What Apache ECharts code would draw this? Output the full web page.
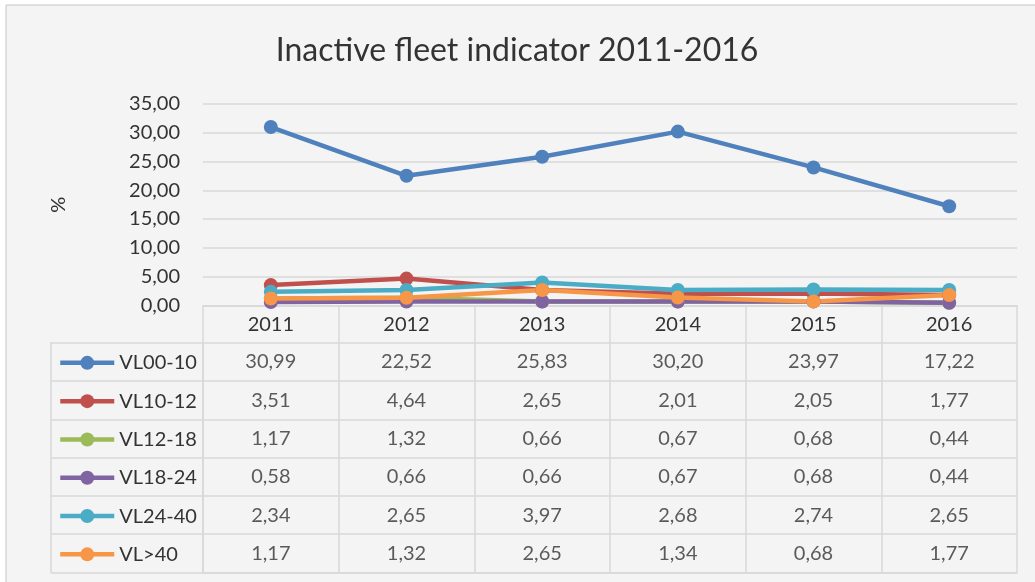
<!DOCTYPE html>
<html>
<head>
<meta charset="utf-8">
<script src="https://cdn.jsdelivr.net/npm/echarts@6/dist/echarts.min.js"></script>
<style>
  html, body { margin: 0; padding: 0; background: #ffffff; }
  #chart { width: 1035px; height: 582px; }
</style>
</head>
<body>
<div id="chart"></div>
<script>
const years = ['2011', '2012', '2013', '2014', '2015', '2016'];
const names = ['VL00-10', 'VL10-12', 'VL12-18', 'VL18-24', 'VL24-40', 'VL>40'];
const vl0010 = [30.99, 22.52, 25.83, 30.20, 23.97, 17.22];
const vl1012 = [3.51, 4.64, 2.65, 2.01, 2.05, 1.77];
const vl1218 = [1.17, 1.32, 0.66, 0.67, 0.68, 0.44];
const vl1824 = [0.58, 0.66, 0.66, 0.67, 0.68, 0.44];
const vl2440 = [2.34, 2.65, 3.97, 2.68, 2.74, 2.65];
const vlOver40 = [1.17, 1.32, 2.65, 1.34, 0.68, 1.77];
const yTicks = [0, 5, 10, 15, 20, 25, 30, 35];

const allValues = [vl0010, vl1012, vl1218, vl1824, vl2440, vlOver40];
const colors = ['#4F81BD', '#C0504D', '#9BBB59', '#8064A2', '#4BACC6', '#F79646'];
const textColor = '#333333';
const lineColor = '#d9d9d9';
const font = 'Lato';

function fmt(v) {
    return Number(v).toFixed(2).replace('.', ',');
}

// table cells: [yearIndex, rowIndex, value]
const cells = [];
allValues.forEach(function (arr, r) {
    arr.forEach(function (v, c) {
        cells.push([c, r, v]);
    });
});

const plotTop = 104, plotBottom = 305.3;
const rowH = 38.3;
const tableTop = 342.7;

const chart = echarts.init(document.getElementById('chart'));

const lineSeries = names.map(function (n, i) {
    return {
        name: n,
        type: 'line',
        xAxisIndex: 0,
        yAxisIndex: 0,
        data: allValues[i],
        symbol: 'circle',
        symbolSize: 14,
        lineStyle: { width: 4.5, color: colors[i] },
        itemStyle: { color: colors[i] },
        emphasis: { disabled: true }
    };
});

chart.setOption({
    backgroundColor: '#ffffff',
    animation: false,
    color: colors,
    title: {
        text: 'Inactive fleet indicator 2011-2016',
        left: 512,
        textAlign: 'center',
        top: 30,
        textStyle: { fontFamily: font, fontSize: 32, fontWeight: 'normal', color: textColor }
    },
    graphic: [{
        type: 'rect',
        z: -10,
        shape: { x: 6, y: 5, width: 1040, height: 590 },
        style: { fill: '#f4f4f4', stroke: '#c4c4c4', lineWidth: 1 }
    }],
    legend: {
        data: names,
        orient: 'vertical',
        left: 58,
        top: tableTop + (rowH - 20) / 2 + 1,
        padding: 0,
        itemWidth: 54,
        itemHeight: 17.5,
        itemGap: rowH - 20,
        selectedMode: false,
        lineStyle: { width: 4.5 },
        textStyle: { fontFamily: font, fontSize: 20, lineHeight: 20, color: textColor }
    },
    grid: [
        { left: 203, width: 814, top: plotTop, height: plotBottom - plotTop, outerBoundsMode: 'none' },
        { left: 203, width: 814, top: tableTop, height: rowH * 6, outerBoundsMode: 'none' },
        { left: 51, width: 152, top: tableTop, height: rowH * 6, outerBoundsMode: 'none' }
    ],
    xAxis: [
        {
            gridIndex: 0,
            type: 'category',
            data: years,
            boundaryGap: true,
            axisLine: { lineStyle: { color: lineColor, width: 1.5 } },
            axisTick: { show: true, length: tableTop - plotBottom, lineStyle: { color: lineColor, width: 1.5 } },
            axisLabel: { margin: 9, fontFamily: font, fontSize: 20, color: textColor }
        },
        {
            gridIndex: 1,
            type: 'category',
            data: years,
            boundaryGap: true,
            axisLine: { lineStyle: { color: lineColor, width: 1.5 } },
            axisTick: { show: false },
            axisLabel: { show: false },
            splitLine: { show: true, lineStyle: { color: lineColor, width: 1.5 } }
        },
        {
            gridIndex: 2,
            type: 'value',
            min: 0,
            max: 1,
            show: false
        }
    ],
    yAxis: [
        {
            gridIndex: 0,
            type: 'value',
            min: 0,
            max: yTicks[yTicks.length - 1],
            interval: yTicks[1] - yTicks[0],
            name: '%',
            nameLocation: 'middle',
            nameGap: 134,
            nameTextStyle: { fontFamily: font, fontSize: 20, color: textColor },
            axisLine: { show: false },
            axisTick: { show: false },
            axisLabel: { margin: 23, fontFamily: font, fontSize: 20, color: textColor, formatter: fmt },
            splitLine: { lineStyle: { color: lineColor, width: 1.5 } }
        },
        {
            gridIndex: 1,
            type: 'category',
            data: names,
            inverse: true,
            boundaryGap: true,
            axisLine: { show: true, lineStyle: { color: lineColor, width: 1.5 } },
            axisTick: { show: false },
            axisLabel: { show: false },
            splitLine: { show: true, lineStyle: { color: lineColor, width: 1.5 } }
        },
        {
            gridIndex: 2,
            type: 'category',
            data: names,
            inverse: true,
            boundaryGap: true,
            axisLine: { show: true, lineStyle: { color: lineColor, width: 1.5 } },
            axisTick: { show: false },
            axisLabel: { show: false },
            splitLine: { show: true, lineStyle: { color: lineColor, width: 1.5 } }
        }
    ],
    series: lineSeries.concat([{
        name: 'table',
        type: 'scatter',
        xAxisIndex: 1,
        yAxisIndex: 1,
        data: cells,
        symbolSize: 1,
        itemStyle: { color: 'rgba(0,0,0,0)' },
        silent: true,
        label: {
            show: true,
            position: 'inside',
            fontFamily: font,
            fontSize: 20,
            color: textColor,
            formatter: function (p) { return fmt(p.data[2]); }
        }
    }])
});
</script>
</body>
</html>
